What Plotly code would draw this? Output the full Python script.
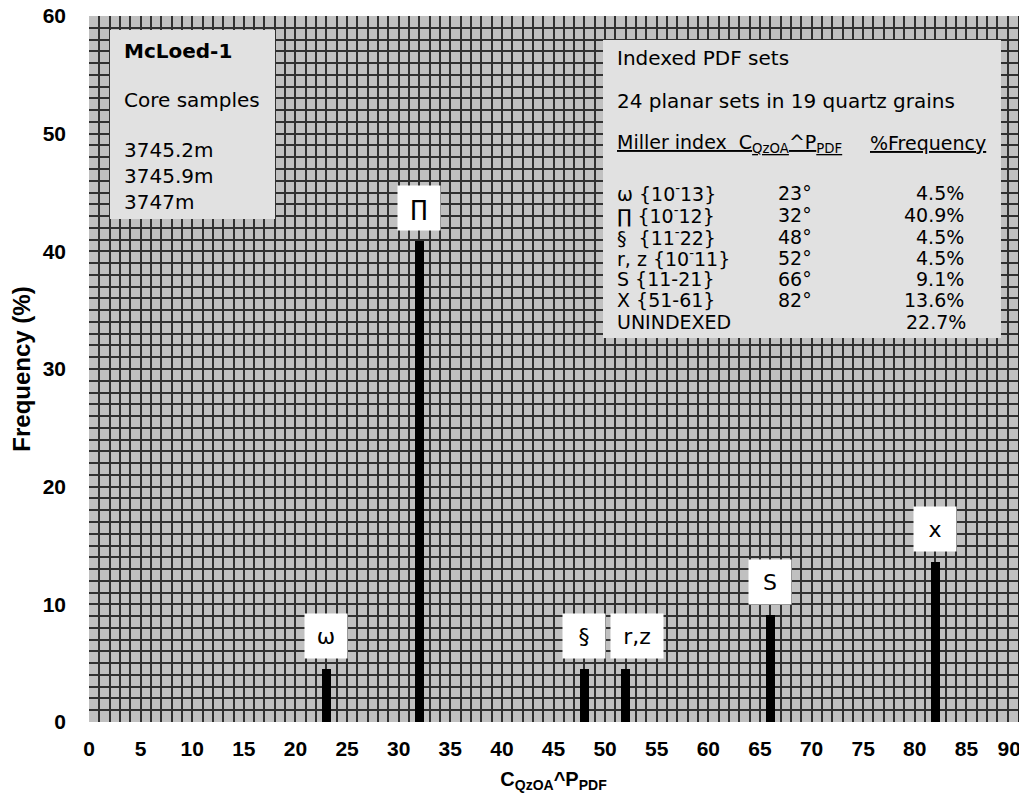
import plotly.graph_objects as go

# ---- data ----
angles = [23, 32, 48, 52, 66, 82]                 # C_QzOA^P_PDF (degrees)
frequency = [4.5, 40.9, 4.5, 4.5, 9.1, 13.6]      # % frequency
bar_labels = ["ω", "∏", "§", "r,z", "S", "x"]
miller = ["ω {10<sup>-</sup>13}", "∏ {10<sup>-</sup>12}", "§  {11<sup>-</sup>22}",
          "r, z {10<sup>-</sup>11}", "S {11-21}", "X {51-61}"]
unindexed_pct = 22.7
x_ticks = list(range(0, 91, 5))
y_ticks = list(range(0, 61, 10))
sample_depths = ["3745.2m", "3745.9m", "3747m"]

# page body has an 8px margin; work in reference pixel coordinates
OFF = 8
W, H = 1027 - OFF, 804 - 2 * OFF
PL, PR, PT, PB = 89, 1018, 16, 722      # plot area edges in reference pixels
ML, MR, MT, MB = PL - OFF, W - (PR - OFF), PT - OFF, H - (PB - OFF)
PW, PH = PR - PL, PB - PT


def px_x(p):
    return (p - PL) / PW


def px_y(p):
    return (PB - p) / PH


BOX_FONT = "DejaVu Sans"
AX_FONT = "Liberation Sans"

# last x label nudged inward (as in the reference) with non-breaking spaces
x_ticktext = [str(v) for v in x_ticks]
x_ticktext[-1] = x_ticktext[-1] + "\u00a0\u00a0\u00a0"

fig = go.Figure()
fig.add_trace(go.Bar(x=angles, y=frequency, width=0.85,
                     marker=dict(color="black", line=dict(width=0)),
                     showlegend=False, hoverinfo="x+y"))
# carrier for the right-hand tick axis
fig.add_trace(go.Scatter(x=[None], y=[None], yaxis="y2", showlegend=False,
                         hoverinfo="skip"))

annotations = []
# labels above bars
for a, f, lab in zip(angles, frequency, bar_labels):
    wide = lab == "r,z"
    annotations.append(dict(
        x=a, y=f, xref="x", yref="y", text=lab, showarrow=False,
        yanchor="bottom", xanchor="center", yshift=10,
        xshift=11 if wide else 0,
        width=40 if wide else 30, height=32, borderpad=6,
        bgcolor="white", font=dict(family=BOX_FONT, size=22, color="black")))

# left info box text
left_lines = [("<b>McLoed-1</b>", 51), ("Core samples", 100)]
for d, py in zip(sample_depths, [150, 176, 202]):
    left_lines.append((d, py))
for txt, py in left_lines:
    annotations.append(dict(x=px_x(122), y=px_y(py), xref="paper", yref="paper",
                            text=txt, showarrow=False, xanchor="left", yanchor="middle",
                            font=dict(family=BOX_FONT, size=20, color="black")))

# right info box text
tx = px_x(615)
for txt, py in [("Indexed PDF sets", 58), ("24 planar sets in 19 quartz grains", 101)]:
    annotations.append(dict(x=tx, y=px_y(py), xref="paper", yref="paper", text=txt,
                            showarrow=False, xanchor="left", yanchor="middle",
                            font=dict(family=BOX_FONT, size=20, color="black")))
annotations.append(dict(x=tx, y=px_y(143), xref="paper", yref="paper",
                        text="<u>Miller index  C<sub>QzOA</sub>^P<sub>PDF</sub></u>",
                        showarrow=False, xanchor="left", yanchor="middle",
                        font=dict(family=BOX_FONT, size=19, color="black")))
annotations.append(dict(x=px_x(988), y=px_y(143), xref="paper", yref="paper",
                        text="<u>%Frequency</u>",
                        showarrow=False, xanchor="right", yanchor="middle",
                        font=dict(family=BOX_FONT, size=19, color="black")))
row_y = [193, 215, 237, 258, 279, 300]
for m, a, f, py in zip(miller, angles, frequency, row_y):
    annotations.append(dict(x=tx, y=px_y(py), xref="paper", yref="paper", text=m,
                            showarrow=False, xanchor="left", yanchor="middle",
                            font=dict(family=BOX_FONT, size=19, color="black")))
    annotations.append(dict(x=px_x(795), y=px_y(py), xref="paper", yref="paper",
                            text=f"{a}°", showarrow=False, xanchor="center", yanchor="middle",
                            font=dict(family=BOX_FONT, size=19, color="black")))
    annotations.append(dict(x=px_x(966), y=px_y(py), xref="paper", yref="paper",
                            text=f"{f}%", showarrow=False, xanchor="right", yanchor="middle",
                            font=dict(family=BOX_FONT, size=19, color="black")))
annotations.append(dict(x=tx, y=px_y(322), xref="paper", yref="paper", text="UNINDEXED",
                        showarrow=False, xanchor="left", yanchor="middle",
                        font=dict(family=BOX_FONT, size=19, color="black")))
annotations.append(dict(x=px_x(968), y=px_y(322), xref="paper", yref="paper",
                        text=f"{unindexed_pct}%", showarrow=False, xanchor="right",
                        yanchor="middle", font=dict(family=BOX_FONT, size=19, color="black")))

shapes = [
    dict(type="rect", xref="paper", yref="paper", x0=px_x(110), x1=px_x(275),
         y0=px_y(219), y1=px_y(30), fillcolor="#e1e1e1", line=dict(width=0), layer="above"),
    dict(type="rect", xref="paper", yref="paper", x0=px_x(603), x1=px_x(1001),
         y0=px_y(338), y1=px_y(40), fillcolor="#e1e1e1", line=dict(width=0), layer="above"),
]

grid_col = "#303030"
fig.update_layout(
    width=W, height=H,
    margin=dict(l=ML, r=MR, t=MT, b=MB, autoexpand=False),
    paper_bgcolor="white", plot_bgcolor="#c0c0c0",
    bargap=0,
    annotations=annotations, shapes=shapes,
    xaxis=dict(range=[0, 90], tickvals=x_ticks, ticktext=x_ticktext, showgrid=True,
               gridcolor=grid_col,
               gridwidth=1.5, zeroline=False, showline=False, ticks="",
               automargin=False, ticklabeloverflow="allow",
               ticklabelstandoff=12,
               minor=dict(dtick=1, tick0=0, showgrid=True, gridcolor=grid_col, gridwidth=1.5),
               tickfont=dict(family=AX_FONT, size=21, color="black", weight="bold"),
               title=dict(text="<b>C<sub>QzOA</sub>^P<sub>PDF</sub></b>", standoff=12,
                          font=dict(family=AX_FONT, size=20, color="black"))),
    yaxis=dict(range=[0, 60], tickvals=y_ticks, showgrid=True, gridcolor=grid_col,
               gridwidth=1.5, zeroline=False, showline=False, ticks="",
               automargin=False, ticklabeloverflow="allow",
               ticklabelstandoff=22,
               minor=dict(dtick=1, tick0=0, showgrid=True, gridcolor=grid_col, gridwidth=1.5),
               tickfont=dict(family=AX_FONT, size=21, color="black", weight="bold"),
               title=dict(text="<b>Frequency (%)</b>", standoff=14,
                          font=dict(family=AX_FONT, size=24, color="black"))),
    yaxis2=dict(range=[0, 60], overlaying="y", side="right", tickvals=y_ticks,
                showticklabels=False, ticks="outside", ticklen=6, tickwidth=1,
                tickcolor="#555555", showgrid=False, zeroline=False,
                showline=True, linecolor="#202020", linewidth=1.5, automargin=False),
)

fig.write_html("out.html")
